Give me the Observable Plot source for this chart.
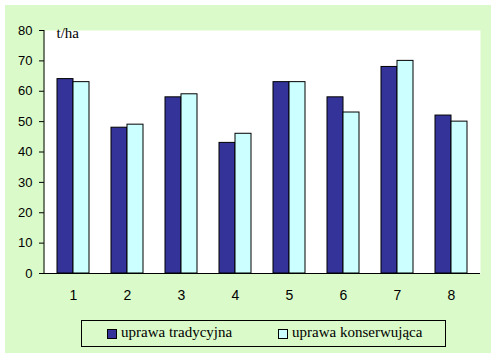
<!DOCTYPE html>
<html>
<head>
<meta charset="utf-8">
<script src="https://cdn.jsdelivr.net/npm/d3@7"></script>
<script src="https://cdn.jsdelivr.net/npm/@observablehq/plot@0.6"></script>
<style>
  html, body { margin: 0; padding: 0; background: #ffffff; }
  #panel { position: absolute; left: 5px; top: 5px; width: 486px; height: 348px; background: #DAFAC9; }
  #chart { position: absolute; left: 0; top: 0; }
  #chart [aria-label^="x-axis"] text { font-size: 14px; }
  #legend { position: absolute; left: 81px; top: 320px; width: 363px; height: 25px; border: 1px solid #000;
            font-family: "Liberation Serif", "Times New Roman", serif; font-size: 15px; color: #000; }
  .item { position: absolute; top: 3px; display: flex; align-items: center; white-space: nowrap; }
  .sw { width: 8px; height: 8px; border: 1px solid #000; margin-right: 4px; margin-top: 2px; }
</style>
</head>
<body>
<div id="panel"></div>
<div id="chart"></div>
<div id="legend"></div>
<script>
const categories = ["1", "2", "3", "4", "5", "6", "7", "8"];
const tradycyjna = [64, 48, 58, 43, 63, 58, 68, 52];
const konserwujaca = [63, 49, 59, 46, 63, 53, 70, 50];
const seriesNames = ["uprawa tradycyjna", "uprawa konserwująca"];
const seriesColors = ["#333399", "#CCFFFF"];
const yTicks = [0, 10, 20, 30, 40, 50, 60, 70, 80];
const unitLabel = "t/ha";

const data = categories.map((c, i) => ({cat: c, a: tradycyjna[i], b: konserwujaca[i]}));

const leftLine = (index, scales, values, dimensions) => {
  const l = d3.create("svg:line")
    .attr("x1", dimensions.marginLeft).attr("x2", dimensions.marginLeft)
    .attr("y1", scales.y(yTicks[yTicks.length - 1])).attr("y2", scales.y(0))
    .attr("stroke", "#000").attr("stroke-width", 1);
  return l.node();
};

const plot = Plot.plot({
  width: 496,
  height: 310,
  marginLeft: 44,
  marginRight: 16,
  marginTop: 30,
  marginBottom: 37,
  style: {background: "transparent", fontFamily: "'Liberation Sans', Arial, sans-serif", fontSize: "13px", color: "#000"},
  x: {domain: categories, paddingInner: 0.41, paddingOuter: 0.205, tickSize: 0, tickPadding: 17, label: null},
  y: {domain: [0, 80], ticks: yTicks, tickSize: 5, tickPadding: 7, label: null},
  marks: [
    Plot.frame({fill: "white", stroke: "none"}),
    Plot.barY(data, {x: "cat", y: "a", fill: seriesColors[0], stroke: "#000", strokeWidth: 1, insetRight: 16}),
    Plot.barY(data, {x: "cat", y: "b", fill: seriesColors[1], stroke: "#000", strokeWidth: 1, insetLeft: 16}),
    Plot.ruleY([0], {stroke: "#000", strokeWidth: 1}),
    leftLine,
    Plot.text([unitLabel], {frameAnchor: "top-left", dx: 12, dy: -3, fontFamily: "'Liberation Serif', 'Times New Roman', serif", fontSize: 15, fill: "#000"})
  ]
});
document.getElementById("chart").appendChild(plot);

const legend = document.getElementById("legend");
const lefts = [25, 196];
seriesNames.forEach((n, i) => {
  const it = document.createElement("div");
  it.className = "item";
  it.style.left = lefts[i] + "px";
  const sw = document.createElement("div");
  sw.className = "sw";
  sw.style.background = seriesColors[i];
  const t = document.createElement("span");
  t.textContent = n;
  it.appendChild(sw);
  it.appendChild(t);
  legend.appendChild(it);
});
</script>
</body>
</html>
